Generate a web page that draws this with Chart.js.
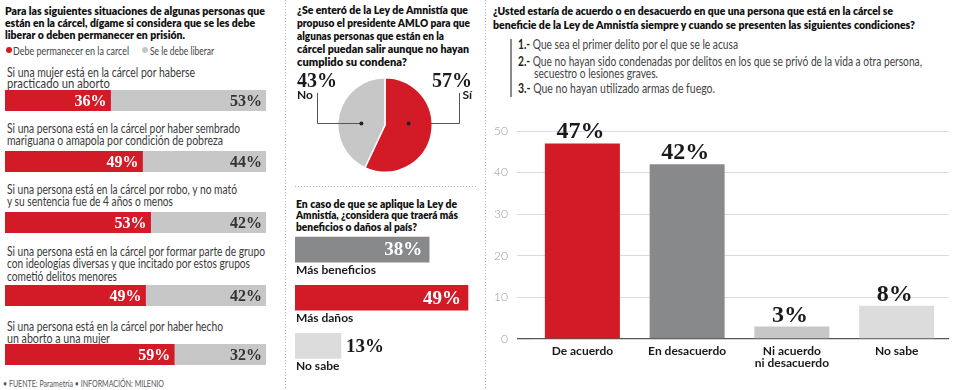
<!DOCTYPE html>
<html><head><meta charset="utf-8">
<script src="https://cdn.jsdelivr.net/npm/chart.js@4.4.0/dist/chart.umd.min.js"></script>
<style>
html,body{margin:0;padding:0;background:#fff;}
#wrap{position:relative;width:958px;height:390px;overflow:hidden;background:#fff;}
.t{position:absolute;white-space:nowrap;line-height:1;transform-origin:0 50%;}
canvas{position:absolute;}
.vdot{position:absolute;width:1px;background-image:linear-gradient(#b5b5b5 40%,transparent 0);background-size:1px 3px;}
.hdot{position:absolute;height:1px;background-image:linear-gradient(90deg,#b5b5b5 40%,transparent 0);background-size:3px 1px;}
</style></head><body><div id="wrap"></div>
<script>
// ---------------- DATA ----------------
const leftTitle = ['Para las siguientes situaciones de algunas personas que','están en la cárcel, dígame si considera que se les debe','liberar o deben permanecer en prisión.'];
const leftSeries = ['Debe permanecer en la carcel','Se le debe liberar'];
const leftCategories = [
  ['Si una mujer está en la cárcel por haberse','practicado un aborto'],
  ['Si una persona está en la cárcel por haber sembrado','mariguana o amapola por condición de pobreza'],
  ['Si una persona está en la cárcel por robo, y no mató','y su sentencia fue de 4 años o menos'],
  ['Si una persona está en la cárcel por formar parte de grupo','con ideologías diversas y que incitado por estos grupos','cometió delitos menores'],
  ['Si una persona está en la cárcel por haber hecho','un aborto a una mujer']
];
const leftKeep = [36, 49, 53, 49, 59];
const leftFree = [53, 44, 42, 42, 32];

const pieTitle = ['¿Se enteró de la Ley de Amnistía que','propuso el presidente AMLO para que','algunas personas que están en la','cárcel puedan salir aunque no hayan','cumplido su condena?'];
const pieCategories = ['Sí','No'];
const pieValues = [57, 43];

const effectTitle = ['En caso de que se aplique la Ley de','Amnistía, ¿considera que traerá más','beneficios o daños al país?'];
const effectCategories = ['Más beneficios','Más daños','No sabe'];
const effectValues = [38, 49, 13];

const agreeTitle = ['¿Usted estaría de acuerdo o en desacuerdo en que una persona que está en la cárcel se','beneficie de la Ley de Amnistía siempre y cuando se presenten las siguientes condiciones?'];
const agreeConditions = [['1.-','Que sea el primer delito por el que se le acusa'],['2.-','Que no hayan sido condenadas por delitos en los que se privó de la vida a otra persona,'],['','secuestro o lesiones graves.'],['3.-','Que no hayan utilizado armas de fuego.']];
const agreeCategories = [['De acuerdo'],['En desacuerdo'],['Ni acuerdo','ni desacuerdo'],['No sabe']];
const agreeValues = [47, 42, 3, 8];
const agreeTicks = [0, 10, 20, 30, 40, 50];

const footer = '• FUENTE: Parametría • INFORMACIÓN: MILENIO';

// ---------------- STYLE ----------------
const RED = '#d31a27', DARK = '#88898b', MIDG = '#c7c7c7', LIGHT = '#dcdcdc';
const SERIF = "'Liberation Serif','DejaVu Serif',serif";
const SANS = "Lato,'Open Sans',sans-serif";
const wrap = document.getElementById('wrap');

function txt(html, x, y, o = {}) {
  const d = document.createElement('div');
  d.className = 't';
  d.innerHTML = html;
  d.style.font = o.font || `400 12px ${SANS}`;
  d.style.color = o.color || '#333';
  wrap.appendChild(d);
  const r = d.getBoundingClientRect();
  d.style.left = x + 'px';
  d.style.top = (y - r.height / 2) + 'px';
  if (o.w) d.style.transform = `scaleX(${o.w / r.width})`;
  return d;
}
function box(cls, x, y, w, h) {
  const d = document.createElement('div'); d.className = cls;
  Object.assign(d.style, {left: x + 'px', top: y + 'px', width: w + 'px', height: h + 'px'});
  wrap.appendChild(d);
}
function mkCanvas(x, y, w, h) {
  const c = document.createElement('canvas');
  c.width = w; c.height = h;
  Object.assign(c.style, {left: x + 'px', top: y + 'px', width: w + 'px', height: h + 'px'});
  wrap.appendChild(c); return c;
}
const base = {responsive: false, animation: false, events: [], plugins: {legend: {display: false}, tooltip: {enabled: false}}};
const TITLE_FONT = `800 12px ${SANS}`;

// separators
box('vdot', 285, 0, 1, 388);
box('vdot', 485, 0, 1, 388);
box('hdot', 295, 186, 181, 1);

// ---------------- LEFT PANEL ----------------
const ltW = [260, 250, 180], ltY = [10, 22.5, 34.5];
leftTitle.forEach((s, i) => txt(s, 5, ltY[i], {font: TITLE_FONT, color: '#111', w: ltW[i]}));
[[9, RED, 13, 116], [145, MIDG, 150, 64]].forEach(([dx, col, tx, tw], i) => {
  const d = document.createElement('div');
  Object.assign(d.style, {position: 'absolute', left: (dx - 3) + 'px', top: '47px', width: '6px', height: '6px', borderRadius: '50%', background: col});
  wrap.appendChild(d);
  txt(leftSeries[i], tx, 50.5, {font: `400 11.5px ${SANS}`, color: '#444', w: tw});
});
const leftTextLayout = [
  {y: [71.5, 83], w: [188, 103]},
  {y: [128, 140], w: [233, 216]},
  {y: [189, 201], w: [230, 166]},
  {y: [251, 263, 275.5], w: [258, 243, 110]},
  {y: [326, 337.5], w: [216, 103]}
];
const leftBarY = [90, 151, 212, 285, 344];
const stackLabels = {
  id: 'stackLabels',
  afterDatasetsDraw(chart) {
    const ctx = chart.ctx; ctx.save();
    ctx.font = `bold 16px ${SERIF}`; ctx.textAlign = 'right'; ctx.textBaseline = 'middle';
    chart.data.datasets.forEach((ds, di) => {
      chart.getDatasetMeta(di).data.forEach((el, i) => {
        ctx.fillStyle = di === 0 ? '#fff' : '#333';
        ctx.fillText(ds.data[i] + '%', el.x - 4, el.y + 1);
      });
    });
    ctx.restore();
  }
};
leftCategories.forEach((lines, i) => {
  lines.forEach((s, j) => txt(s, 7, leftTextLayout[i].y[j], {font: `400 13.5px ${SANS}`, color: '#3a3a3a', w: leftTextLayout[i].w[j]}));
  const c = mkCanvas(5, leftBarY[i], 261, 21);
  new Chart(c, {
    type: 'bar',
    data: {labels: [lines.join(' ')], datasets: [
      {label: leftSeries[0], data: [leftKeep[i]], backgroundColor: RED, barPercentage: 1, categoryPercentage: 1},
      {label: leftSeries[1], data: [leftFree[i]], backgroundColor: MIDG, barPercentage: 1, categoryPercentage: 1}
    ]},
    options: Object.assign({}, base, {indexAxis: 'y', layout: {padding: 0},
      scales: {x: {display: false, stacked: true, min: 0, max: leftKeep[i] + leftFree[i]}, y: {display: false, stacked: true}}}),
    plugins: [stackLabels]
  });
});
txt(footer, 3, 383, {font: `400 10px ${SANS}`, color: '#555', w: 161});

// ---------------- MIDDLE: PIE ----------------
const ptW = [171, 173, 147, 172, 110];
pieTitle.forEach((s, i) => txt(s, 297, 9.5 + 12.9 * i, {font: TITLE_FONT, color: '#111', w: ptW[i]}));
const pieLabels = {
  id: 'pieLabels',
  afterDatasetsDraw(chart) {
    const ctx = chart.ctx, meta = chart.getDatasetMeta(0), ds = chart.data.datasets[0], W = chart.width;
    ctx.save();
    meta.data.forEach((arc, i) => {
      const mid = (arc.startAngle + arc.endAngle) / 2;
      const right = Math.cos(mid) > 0;
      const dotX = arc.x + (right ? 1 : -1) * arc.outerRadius * 0.5, dotY = arc.y - 1.5;
      const lx = right ? W - 8 : 7, lineX = right ? W - 21 : 27;
      ctx.fillStyle = '#1a1a1a'; ctx.textAlign = right ? 'right' : 'left'; ctx.textBaseline = 'middle';
      ctx.font = `bold 20px ${SERIF}`; ctx.fillText(ds.data[i] + '%', lx, 16);
      ctx.font = `bold 12px ${SANS}`; ctx.fillText(chart.data.labels[i], lx, 29.5);
      ctx.strokeStyle = '#555'; ctx.lineWidth = 1;
      ctx.beginPath(); ctx.moveTo(lineX + 0.5, 27); ctx.lineTo(lineX + 0.5, dotY); ctx.lineTo(dotX, dotY); ctx.stroke();
      ctx.fillStyle = '#222'; ctx.beginPath(); ctx.arc(dotX, dotY, 2, 0, Math.PI * 2); ctx.fill();
    });
    ctx.restore();
  }
};
new Chart(mkCanvas(290, 66, 190, 120), {
  type: 'pie',
  data: {labels: pieCategories, datasets: [{data: pieValues, backgroundColor: [RED, MIDG], borderColor: '#fff', borderWidth: 1.5}]},
  options: Object.assign({}, base, {layout: {padding: {top: 11, bottom: 13, left: 0, right: 0}}}),
  plugins: [pieLabels]
});

// ---------------- MIDDLE: EFFECT BARS ----------------
const etW = [161, 162, 121], etY = [203, 214.5, 226];
effectTitle.forEach((s, i) => txt(s, 296, etY[i], {font: TITLE_FONT, color: '#111', w: etW[i]}));
const effectLabels = {
  id: 'effectLabels',
  afterDatasetsDraw(chart) {
    const ctx = chart.ctx, meta = chart.getDatasetMeta(0), ds = chart.data.datasets[0];
    ctx.save(); ctx.textBaseline = 'middle';
    meta.data.forEach((el, i) => {
      const v = ds.data[i];
      ctx.font = `bold 19px ${SERIF}`;
      if (v >= 20) { ctx.textAlign = 'right'; ctx.fillStyle = '#fff'; ctx.fillText(v + '%', el.x - 7, el.y + 1); }
      else { ctx.textAlign = 'left'; ctx.fillStyle = '#1a1a1a'; ctx.fillText(v + '%', el.x + 5, el.y + 1); }
      const h = el.height || 25;
      ctx.font = `bold 12px ${SANS}`; ctx.textAlign = 'left'; ctx.fillStyle = '#1a1a1a';
      ctx.fillText(chart.data.labels[i], chart.chartArea.left + 1, el.y + h / 2 + 8);
    });
    ctx.restore();
  }
};
new Chart(mkCanvas(290, 222, 190, 152), {
  type: 'bar',
  data: {labels: effectCategories, datasets: [{data: effectValues, backgroundColor: [DARK, RED, LIGHT], barThickness: 25}]},
  options: Object.assign({}, base, {indexAxis: 'y', layout: {padding: {top: 3.5, bottom: 4, left: 5, right: 8.5}},
    scales: {x: {display: false, min: 0, max: 50}, y: {display: false}}}),
  plugins: [effectLabels]
});

// ---------------- RIGHT PANEL ----------------
const atW = [400, 422], atY = [10, 24];
agreeTitle.forEach((s, i) => txt(s, 493, atY[i], {font: TITLE_FONT, color: '#111', w: atW[i]}));
const bar = document.createElement('div');
Object.assign(bar.style, {position: 'absolute', left: '510px', top: '39px', width: '1.5px', height: '58px', background: '#8a8a8a'});
wrap.appendChild(bar);
const acX = [518, 518, 534, 518], acY = [44.5, 61, 73.5, 88], acW = [220, 404, 124, 197];
agreeConditions.forEach(([n, s], i) => txt((n ? `<b style="color:#222">${n}</b> ` : '') + s, acX[i], acY[i], {font: `400 12.5px ${SANS}`, color: '#444', w: acW[i]}));

const agreeLabels = {
  id: 'agreeLabels',
  afterDatasetsDraw(chart) {
    const ctx = chart.ctx, meta = chart.getDatasetMeta(0), ds = chart.data.datasets[0];
    ctx.save(); ctx.textAlign = 'center'; ctx.textBaseline = 'alphabetic';
    ctx.font = `bold 24px ${SERIF}`; ctx.fillStyle = '#1a1a1a';
    meta.data.forEach((el, i) => ctx.fillText(ds.data[i] + '%', el.x - 2, el.y - 5));
    ctx.restore();
  }
};
new Chart(mkCanvas(490, 112, 468, 270), {
  type: 'bar',
  data: {labels: agreeCategories, datasets: [{data: agreeValues, backgroundColor: [RED, DARK, MIDG, LIGHT], barPercentage: 0.716, categoryPercentage: 1}]},
  options: Object.assign({}, base, {
    layout: {padding: {top: 19, right: 9, bottom: 0, left: 0}},
    scales: {
      x: {grid: {display: false, drawTicks: false}, border: {display: false},
          ticks: {padding: 6, color: '#1a1a1a', font: {family: SANS, size: 12, weight: 'bold', lineHeight: 1.0}},
          afterFit: s => { s.height = 43; }},
      y: {min: 0, max: 50, border: {display: false},
          afterBuildTicks: s => { s.ticks = agreeTicks.map(v => ({value: v})); },
          grid: {color: c => c.tick && c.tick.value === 0 ? '#555' : '#dcdcdc', lineWidth: c => c.tick && c.tick.value === 0 ? 1.3 : 1, tickLength: 13, drawTicks: true},
          ticks: {padding: 9, color: '#9a9a9a', font: {family: SANS, size: 12, weight: '300'}},
          afterFit: s => { s.width = 40; }}
    }
  }),
  plugins: [agreeLabels]
});
</script></body></html>
